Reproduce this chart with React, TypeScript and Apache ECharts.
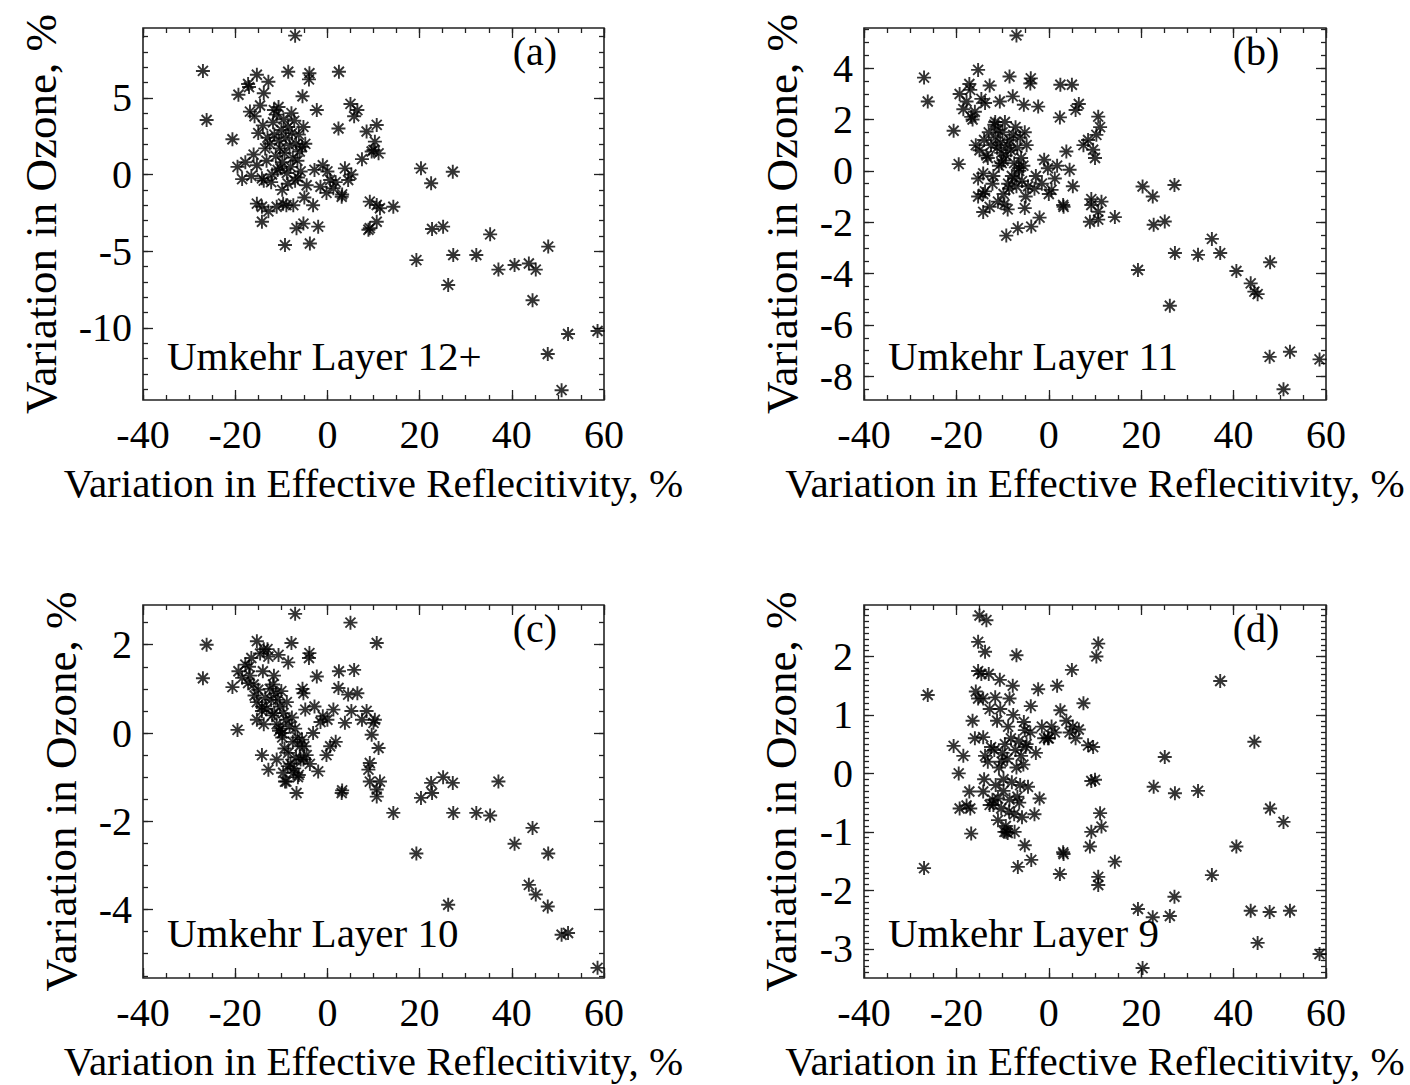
import React, { useEffect, useRef } from "react";
import * as echarts from "echarts";

// Shared x values: variation in effective reflectivity, %
const reflectivity = [
  -27.0, -26.2, -20.6, -19.5, -7.0, -15.3, -17.2, -17.0, -12.8, -19.3,
  -13.8, -16.8, -8.5, -3.9, -4.0, 2.5, 5.0, -5.4, -2.3, 5.8,
  -7.8, -10.6, 2.4, 8.5, 9.6, 10.7, 10.3, 10.0, 11.1, -5.2,
  -4.8, -15.0, -13.5, -15.3, -14.2, -13.8, -12.0, -10.2, -1.0, 0.6,
  1.3, 3.8, 4.5, -0.2, 3.1, 3.2, -15.3, -14.2, -12.8, -11.0,
  -9.6, -8.9, -14.2, -5.2, -6.7, -2.0, -9.2, -3.8, -3.1, -4.5,
  8.9, 9.2, 10.7, 14.3, 10.7, 9.2, 11.4,
  -11.8, -11.5, -11.2, -11.0, -10.8, -10.5, -10.3, -10.0, -9.8, -9.5,
  -9.3, -9.0, -8.8, -8.5, -8.2, -8.0, -7.7, -7.5, -7.2, -7.0,
  -6.8, -6.5, -6.2, -6.0, -5.8, -5.5, -12.5, -13.2, -14.0, -16.0,
  -15.8, -16.5, -17.8, -18.5, -12.2, -9.8, -8.6, -7.4, -6.4, -5.0,
  -2.8, -1.5, 0.0, 1.8, 5.2, 6.5, 7.5, -14.6, -13.0, -11.6,
  19.3, 20.3, 22.5, 22.7, 25.1, 26.2, 27.2, 27.3, 32.3, 35.3,
  37.1, 40.6, 43.7, 44.5, 45.2, 47.9, 47.8, 50.8, 52.2, 58.6,
];

// Variation in ozone, %, Umkehr layer 12+
const ozoneL12 = [
  6.75, 3.55, 2.3, 0.5, 9.05, 6.5, 5.9, 5.7, 6.05, 5.2,
  5.3, 4.1, 6.7, 6.6, 6.2, 6.7, 4.6, 5.1, 4.2, 3.8,
  4.0, 4.4, 3.0, 2.8, 1.5, 3.23, 2.14, 1.6, 1.38, 3.1,
  2.0, 2.7, 1.7, 0.6, -0.25, -0.4, 0.0, 0.4, 0.6, -0.36,
  -0.9, 0.4, -0.36, -1.2, -1.45, -1.3, -1.9, -2.1, -2.4, -2.1,
  -1.9, -2.0, -3.08, -3.2, -3.5, -3.4, -4.6, -4.5, -2.0, -0.7,
  -3.6, -1.77, -1.99, -2.1, -3.08, -3.5, -2.2,
  3.4, 2.6, 1.2, 3.9, 0.3, 2.2, 1.7, 2.9, 0.8, 3.6,
  1.4, 2.4, 0.1, 3.1, 1.9, 0.5, 2.7, 1.1, 3.5, -0.4,
  2.0, 0.9, 2.6, 1.5, 0.2, 1.8, 2.0, 0.9, 3.2, 1.3,
  3.8, -0.1, 0.8, -0.3, -0.5, -1.0, -0.6, -2.0, -0.2, -1.5,
  0.3, -0.8, 0.2, -0.5, 0.0, 4.2, 1.0, 4.5, 2.4, 4.2,
  -5.58, 0.4, -0.57, -3.55, -3.4, -7.2, 0.18, -5.25, -5.25, -3.9,
  -6.2, -5.9, -5.8, -8.2, -6.2, -4.7, -11.7, -14.06, -10.4, -10.2,
];

// Umkehr layer 11
const ozoneL11 = [
  3.63, 2.7, 1.56, 0.26, 5.27, 3.93, 3.38, 3.15, 3.32, 2.99,
  2.64, 2.1, 3.67, 3.6, 3.4, 3.35, 3.35, 2.57, 2.5, 2.37,
  2.9, 2.7, 2.08, 1.2, 0.82, 2.11, 1.4, 0.5, 1.7, 1.5,
  1.0, 0.8, 0.6, -0.3, -0.1, -0.8, -0.2, 0.3, 0.43, -0.74,
  -0.3, 0.75, 0.04, 0.1, -1.33, -1.4, -1.0, -0.9, -1.4, -1.2,
  -1.3, -1.5, -1.6, -1.45, -2.23, -1.82, -2.52, -2.17, -0.7, -0.6,
  -1.98, -1.33, -1.59, -1.8, -1.9, -1.1, -1.2,
  1.8, 1.3, 0.9, 1.6, 0.2, 1.1, 0.7, 1.5, 0.4, 1.9,
  0.6, 1.0, -0.5, 1.2, 0.8, -0.2, 1.4, 0.3, 1.7, -0.6,
  0.9, 0.1, 1.3, 0.5, -0.4, 0.2, 1.0, 0.5, 1.2, 2.3,
  1.0, 2.0, 2.7, 2.4, -0.5, -0.9, -0.7, -0.3, 0.0, -1.0,
  -0.2, -0.5, -0.9, 0.2, -0.6, 2.6, 1.0, 2.8, 1.5, 1.9,
  -3.86, -0.61, -1.0, -2.1, -1.97, -5.25, -0.55, -3.2, -3.27, -2.65,
  -3.2, -3.9, -4.38, -4.7, -4.8, -3.56, -7.24, -8.5, -7.04, -7.34,
];

// Umkehr layer 10
const ozoneL10 = [
  1.24, 2.0, 1.04, 0.07, 2.7, 2.08, 1.13, 1.5, 1.73, 1.4,
  1.9, 1.3, 1.6, 1.81, 1.7, 1.4, 2.5, 1.0, 1.28, 1.43,
  2.04, 1.77, 1.02, 0.5, -0.04, 2.04, 0.3, 0.23, -0.34, 0.9,
  0.53, 0.98, 0.8, 0.3, 0.5, 0.2, 0.4, 0.1, 0.38, -0.3,
  0.53, 0.23, 0.87, -0.5, -1.36, -1.3, 0.7, 0.6, -0.83, -0.6,
  -0.9, -1.1, -0.5, -0.6, -1.36, -0.87, -1.1, -0.7, 0.0, -0.5,
  -0.83, -0.68, -1.28, -1.81, -1.44, -1.1, -1.1,
  1.1, 0.45, 0.9, 0.2, 0.75, 0.05, 0.6, 0.95, -0.1, 0.45,
  -0.35, 0.3, 0.7, -0.45, 0.15, -0.7, 0.35, -0.2, -0.8, 0.1,
  -0.55, -0.1, -0.95, -0.3, -0.6, -0.15, 1.0, 0.55, 1.4, 1.1,
  0.85, 1.7, 1.55, 1.25, 0.75, 0.0, -0.75, -0.9, -1.0, -0.3,
  0.6, 0.25, 0.3, -0.2, 0.5, 0.9, 0.3, 1.8, 1.9, 1.3,
  -2.73, -1.47, -1.13, -1.36, -1.0, -3.89, -1.13, -1.81, -1.81, -1.87,
  -1.1, -2.51, -3.44, -2.15, -3.66, -2.73, -3.93, -4.57, -4.53, -5.32,
];

// Umkehr layer 9
const ozoneL9 = [
  -1.62, 1.34, 0.47, 0.0, 2.02, 2.25, -0.31, -0.6, 1.1, -0.6,
  2.08, -1.03, 1.28, 1.15, 0.7, 1.08, 1.77, 0.88, 1.44, 0.6,
  1.5, 1.6, -1.72, 0.48, 0.45, 2.22, 2.0, -0.11, -0.68, 0.74,
  0.5, 2.7, 2.62, 1.75, 1.28, 0.3, -0.54, 0.2, 0.6, 0.8,
  0.7, 0.9, 0.7, 0.6, -1.35, -1.38, 1.28, 0.62, -0.54, -0.43,
  -1.0, -1.02, -0.31, -1.23, -1.6, -0.43, -1.0, -1.48, -0.7, -0.23,
  -1.25, -0.13, -1.77, -1.51, -1.91, -1.0, -0.91,
  0.4, -0.2, 0.9, -0.8, 0.1, 1.1, -0.6, 0.35, -0.3, 0.5,
  -0.9, 0.25, 0.8, -0.45, 0.6, -0.15, 1.0, -0.7, 0.4, 0.1,
  -0.4, 0.55, -0.2, 0.3, -0.75, 0.15, 0.45, 0.2, -0.1, 0.6,
  1.4, 0.9, -0.55, 0.3, -0.45, -0.1, -0.65, -1.0, -0.5, 0.45,
  0.35, 0.8, 0.6, 1.5, 0.8, 0.75, 1.2, 1.7, 1.7, 1.3,
  -2.32, -3.33, -2.46, -0.23, 0.28, -2.44, -2.11, -0.34, -0.3, -1.74,
  1.58, -1.25, -2.35, 0.54, -2.9, -0.6, -2.37, -0.83, -2.35, -3.09,
];

// Tick labels
const xTickLabels = [-40, -20, 0, 20, 40, 60];
const yTickLabelsA = [-10, -5, 0, 5];
const yTickLabelsB = [-8, -6, -4, -2, 0, 2, 4];
const yTickLabelsC = [-4, -2, 0, 2];
const yTickLabelsD = [-3, -2, -1, 0, 1, 2];

const FONT = '"Liberation Serif", "Times New Roman", serif';
const INK = "#000";
const TICK = { color: "#222", width: 1.3 };
const ASTERISK = "path://M7 0L7 14M0 7L14 7M2 2L12 12M2 12L12 2";

function steps(from: number, to: number, step: number): number[] {
  const out: number[] = [];
  const n = Math.round((to - from) / step);
  for (let k = 0; k <= n; k++) out.push(Math.round((from + k * step) * 1000) / 1000);
  return out;
}

const panels = [
  { tag: "(a)", layer: "Umkehr Layer 12+", ozone: ozoneL12, yMin: -14.7, yMax: 9.55, yMajor: yTickLabelsA, yMinor: steps(-14, 9, 1), left: 143, top: 28, width: 461, height: 372, yNameGap: 80 },
  { tag: "(b)", layer: "Umkehr Layer 11", ozone: ozoneL11, yMin: -8.92, yMax: 5.56, yMajor: yTickLabelsB, yMinor: steps(-8.5, 5.5, 0.5), left: 864, top: 28, width: 462, height: 372, yNameGap: 60 },
  { tag: "(c)", layer: "Umkehr Layer 10", ozone: ozoneL10, yMin: -5.55, yMax: 2.9, yMajor: yTickLabelsC, yMinor: steps(-5.5, 2.5, 0.5), left: 143, top: 605, width: 461, height: 373, yNameGap: 60 },
  { tag: "(d)", layer: "Umkehr Layer 9", ozone: ozoneL9, yMin: -3.5, yMax: 2.88, yMajor: yTickLabelsD, yMinor: steps(-3.4, 2.8, 0.1), left: 864, top: 605, width: 462, height: 373, yNameGap: 61 },
];

const xMinor = steps(-40, 60, 5);

function buildOption() {
  const grid: any[] = [];
  const xAxis: any[] = [];
  const yAxis: any[] = [];
  const series: any[] = [];
  const graphic: any[] = [];

  panels.forEach((p, i) => {
    grid.push({
      left: p.left, top: p.top, width: p.width, height: p.height,
      show: true, borderColor: "#222", borderWidth: 1.6, backgroundColor: "transparent",
      containLabel: false, outerBoundsMode: "none",
    });

    const xb = {
      type: "value", gridIndex: i, min: -40, max: 60,
      splitLine: { show: false }, axisLine: { show: false, onZero: false },
    };
    const tick = (vals: number[], len: number) => ({ show: true, inside: true, length: len, customValues: vals, lineStyle: TICK });
    xAxis.push({
      ...xb, position: "bottom", axisTick: tick(xTickLabels, 10),
      axisLabel: { show: true, customValues: xTickLabels, fontSize: 40, fontFamily: FONT, color: INK, margin: 14 },
      name: "Variation in Effective Reflecitivity, %", nameLocation: "middle", nameGap: 62,
      nameTextStyle: { fontSize: 41, fontFamily: FONT, color: INK },
    });
    xAxis.push({ ...xb, position: "bottom", axisTick: tick(xMinor, 5), axisLabel: { show: false } });
    xAxis.push({ ...xb, position: "top", axisTick: tick(xTickLabels, 10), axisLabel: { show: false } });
    xAxis.push({ ...xb, position: "top", axisTick: tick(xMinor, 5), axisLabel: { show: false } });

    const yb = {
      type: "value", gridIndex: i, min: p.yMin, max: p.yMax,
      splitLine: { show: false }, axisLine: { show: false, onZero: false },
    };
    yAxis.push({
      ...yb, position: "left", axisTick: tick(p.yMajor, 10),
      axisLabel: { show: true, customValues: p.yMajor, fontSize: 40, fontFamily: FONT, color: INK, margin: 11 },
      name: "Variation in Ozone, %", nameLocation: "middle", nameRotate: 90, nameGap: p.yNameGap,
      nameTextStyle: { fontSize: 45, fontFamily: FONT, color: INK },
    });
    yAxis.push({ ...yb, position: "left", axisTick: tick(p.yMinor, 5), axisLabel: { show: false } });
    yAxis.push({ ...yb, position: "right", axisTick: tick(p.yMajor, 10), axisLabel: { show: false } });
    yAxis.push({ ...yb, position: "right", axisTick: tick(p.yMinor, 5), axisLabel: { show: false } });

    series.push({
      type: "scatter", xAxisIndex: 4 * i, yAxisIndex: 4 * i, silent: true,
      data: reflectivity.map((x, k) => [x, p.ozone[k]]),
      symbol: ASTERISK, symbolSize: 14,
      itemStyle: { color: "rgba(0,0,0,0)", borderColor: "#000", borderWidth: 1.9 },
    });

    graphic.push({
      type: "text", x: p.left + 392, y: p.top + 23, z: 10,
      style: { text: p.tag, fontSize: 40, fontFamily: FONT, fill: INK, align: "center", verticalAlign: "middle", textAlign: "center", textVerticalAlign: "middle" },
    });
    graphic.push({
      type: "text", x: p.left + 24, y: p.top + 328, z: 10,
      style: { text: p.layer, fontSize: 41, fontFamily: FONT, fill: INK, align: "left", verticalAlign: "middle", textAlign: "left", textVerticalAlign: "middle" },
    });
  });

  return { animation: false, backgroundColor: "#fff", grid, xAxis, yAxis, series, graphic };
}

export default function App() {
  const ref = useRef<HTMLDivElement>(null);
  useEffect(() => {
    if (!ref.current) return;
    const chart = echarts.init(ref.current, undefined, { renderer: "svg" });
    chart.setOption(buildOption() as any);
    return () => chart.dispose();
  }, []);
  return (
    <div
      ref={ref}
      style={{ position: "absolute", left: 0, top: 0, width: 1410, height: 1085, background: "#fff" }}
    />
  );
}
